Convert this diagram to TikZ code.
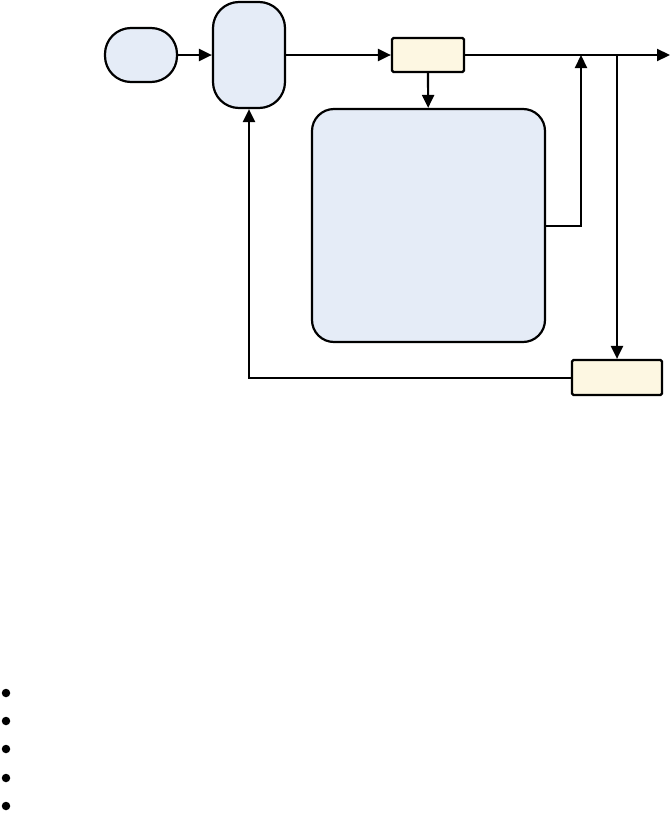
\documentclass[tikz,border=0pt]{standalone}
\usetikzlibrary{arrows.meta}
\definecolor{bfill}{HTML}{E5ECF7}
\definecolor{yfill}{HTML}{FDF7E2}
\begin{document}
\begin{tikzpicture}[x=1pt,y=-1pt,
  bluebox/.style={draw=black,fill=bfill,line width=2.2pt},
  yellowbox/.style={draw=black,fill=yfill,line width=2.2pt,rounded corners=1.5pt},
  conn/.style={line width=2.2pt,-{Triangle[length=13pt,width=12pt]}},
  bullet/.style={circle,fill=black,inner sep=0pt,minimum size=8.5pt}]
\useasboundingbox (0,0) rectangle (671,825);
% nodes
\node[bluebox,rounded corners=26pt,minimum width=72pt,minimum height=54pt,inner sep=0pt] (start) at (141,55) {};
\node[bluebox,rounded corners=26pt,minimum width=72pt,minimum height=106pt,inner sep=0pt] (tall) at (249,55) {};
\node[yellowbox,minimum width=72pt,minimum height=34pt,inner sep=0pt] (small) at (428,55) {};
\node[bluebox,rounded corners=22pt,minimum width=233pt,minimum height=233pt,inner sep=0pt] (big) at (428.5,225.5) {};
\node[yellowbox,minimum width=90pt,minimum height=35pt,inner sep=0pt] (bot) at (617,377.5) {};
\coordinate (out) at (670,55);
\coordinate (j1) at (581,55);
\coordinate (j2) at (617,55);
\coordinate (c1) at (581,226);
\coordinate (c2) at (249,378);
% connectors
\draw[conn] (start) -- (tall);
\draw[conn] (tall) -- (small);
\draw[conn] (small.east) -- (out);
\draw[conn] (small) -- (big);
\draw[conn] (big.east |- c1) -- (c1) -- (j1);
\draw[conn] (j2) -- (bot);
\draw[conn] (bot.west |- c2) -- (c2) -- (tall.south);
% bullets
\foreach \y [count=\i] in {693,721,749,778,806} \node[bullet] (b\i) at (6,\y) {};
\end{tikzpicture}
\end{document}
